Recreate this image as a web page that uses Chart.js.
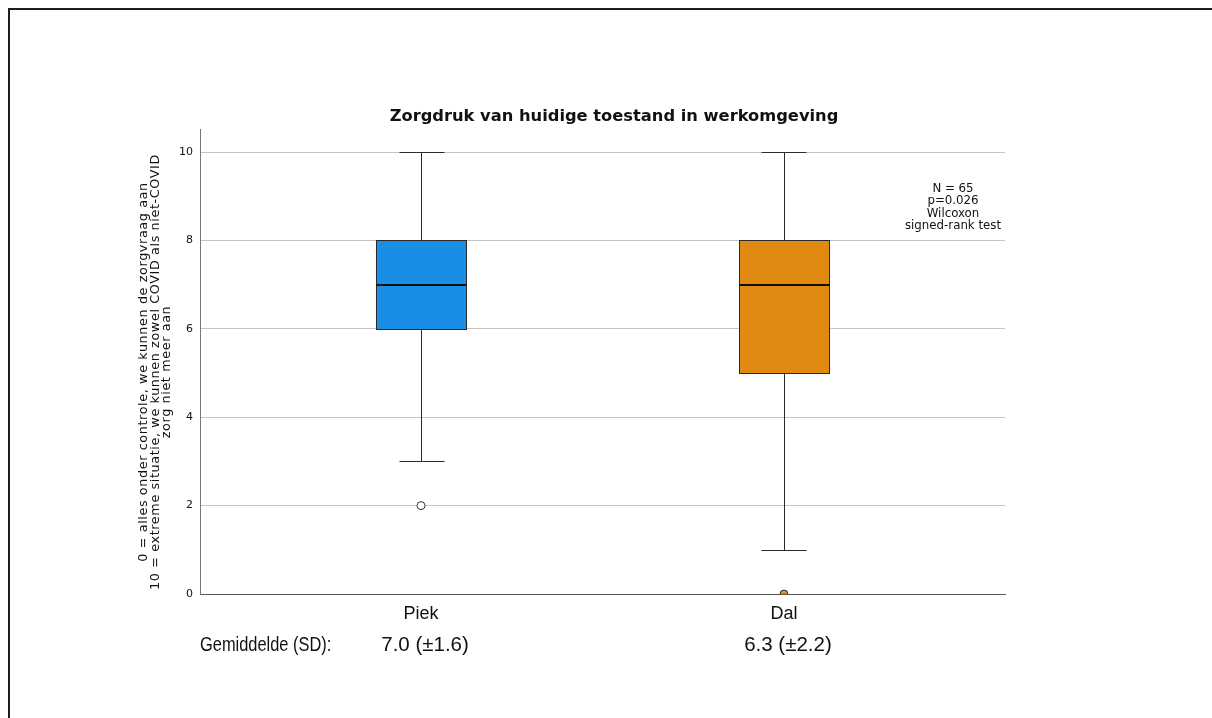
<!DOCTYPE html>
<html>
<head>
<meta charset="utf-8">
<script src="https://cdn.jsdelivr.net/npm/chart.js@4/dist/chart.umd.min.js"></script>
<style>
  html, body { margin: 0; padding: 0; background: #fff; overflow: hidden; }
  #frame { position: absolute; left: 8px; top: 8px; width: 1400px; height: 900px;
           border-left: 2px solid #1e1e1e; border-top: 2px solid #1e1e1e; }
  #chart { position: absolute; left: 0; top: 0; }
</style>
</head>
<body>
<div id="frame"></div>
<canvas id="chart" width="1212" height="718"></canvas>
<script>
// Box plot summary per group
const categories   = ['Piek', 'Dal'];
const whiskerLow   = [3, 1];
const quartile1    = [6, 5];
const medians      = [7, 7];
const quartile3    = [8, 8];
const whiskerHigh  = [10, 10];
const outliers     = [[2], [0]];
const means        = [7.0, 6.3];
const sds          = [1.6, 2.2];

// Axis and labels
const yTickValues  = [0, 2, 4, 6, 8, 10];
const yAxisTitle   = [
  '0 = alles onder controle, we kunnen de zorgvraag aan',
  '10 = extreme situatie, we kunnen zowel COVID als niet-COVID',
  'zorg niet meer aan'
];
const chartTitle   = 'Zorgdruk van huidige toestand in werkomgeving';
const statNote     = ['N = 65', 'p=0.026', 'Wilcoxon', 'signed-rank test'];
const meanRowLabel = 'Gemiddelde (SD):';

// Styling
const boxFills     = ['#1a8de6', '#e08a12'];
const outlierFills = ['#ffffff', '#e08a12'];
const BOX_HALF = 0.125;   // half box width, in category units
const CAP_HALF = 0.062;   // half whisker-cap width, in category units

const outlierPoints = [];
const outlierColors = [];
outliers.forEach((vals, i) => vals.forEach(v => {
  outlierPoints.push({ x: i, y: v });
  outlierColors.push(outlierFills[i]);
}));

const crisp = v => Math.round(v) + 0.5;

const boxPlotPlugin = {
  id: 'boxPlot',
  beforeDatasetsDraw(chart) {
    const { ctx, scales: { x, y } } = chart;
    ctx.save();
    categories.forEach((_, i) => {
      const cx = crisp(x.getPixelForValue(i));
      const bl = crisp(x.getPixelForValue(i - BOX_HALF));
      const br = crisp(x.getPixelForValue(i + BOX_HALF));
      const cl = crisp(x.getPixelForValue(i - CAP_HALF));
      const cr = crisp(x.getPixelForValue(i + CAP_HALF));
      const yLo = crisp(y.getPixelForValue(whiskerLow[i]));
      const yQ1 = crisp(y.getPixelForValue(quartile1[i]));
      const yMd = Math.round(y.getPixelForValue(medians[i]));
      const yQ3 = crisp(y.getPixelForValue(quartile3[i]));
      const yHi = crisp(y.getPixelForValue(whiskerHigh[i]));

      ctx.strokeStyle = '#2b2b2b';
      ctx.lineWidth = 1;
      ctx.beginPath();
      ctx.moveTo(cx, yQ3); ctx.lineTo(cx, yHi);
      ctx.moveTo(cl, yHi); ctx.lineTo(cr, yHi);
      ctx.moveTo(cx, yQ1); ctx.lineTo(cx, yLo);
      ctx.moveTo(cl, yLo); ctx.lineTo(cr, yLo);
      ctx.stroke();

      ctx.fillStyle = boxFills[i];
      ctx.fillRect(bl, yQ3, br - bl, yQ1 - yQ3);
      ctx.strokeStyle = '#2a2a2a';
      ctx.strokeRect(bl, yQ3, br - bl, yQ1 - yQ3);

      ctx.strokeStyle = '#101010';
      ctx.lineWidth = 2;
      ctx.beginPath();
      ctx.moveTo(bl, yMd); ctx.lineTo(br, yMd);
      ctx.stroke();
    });
    ctx.restore();
  },
  afterDraw(chart) {
    const { ctx, chartArea, scales: { x } } = chart;
    ctx.save();
    ctx.fillStyle = '#111';
    ctx.textBaseline = 'middle';

    // rotated y-axis description, one line per entry
    ctx.save();
    ctx.font = '12.8px "DejaVu Sans"';
    ctx.letterSpacing = '0.6px';
    ctx.textAlign = 'center';
    ctx.translate(chartArea.left - 56, (chartArea.top + chartArea.bottom) / 2 + 10);
    ctx.rotate(-Math.PI / 2);
    yAxisTitle.forEach((line, k) => ctx.fillText(line, 0, k * 11.5));
    ctx.restore();

    // test annotation, upper right
    ctx.font = '11.8px "DejaVu Sans"';
    ctx.textAlign = 'center';
    statNote.forEach((line, k) => {
      ctx.fillText(line, chartArea.right - 52, chartArea.top + 59 + k * 12.3);
    });

    // mean (SD) row under the category labels
    const rowY = chartArea.bottom + 51;
    ctx.save();
    ctx.font = '20px "Liberation Sans"';
    ctx.textAlign = 'left';
    ctx.translate(chartArea.left, rowY);
    ctx.scale(0.82, 1);
    ctx.fillText(meanRowLabel, 0, 0);
    ctx.restore();
    ctx.font = '20.5px "Liberation Sans"';
    ctx.textAlign = 'center';
    categories.forEach((_, i) => {
      const txt = means[i].toFixed(1) + ' (\u00b1' + sds[i].toFixed(1) + ')';
      ctx.fillText(txt, x.getPixelForValue(i) + 4, rowY);
    });
    ctx.restore();
  }
};

new Chart(document.getElementById('chart'), {
  type: 'scatter',
  data: {
    datasets: [{
      label: 'Uitschieters',
      data: outlierPoints,
      pointRadius: 4,
      pointHoverRadius: 4,
      pointBackgroundColor: outlierColors,
      pointBorderColor: '#333333',
      pointBorderWidth: 1,
      clip: 0
    }]
  },
  options: {
    responsive: false,
    animation: false,
    devicePixelRatio: 1,
    layout: { padding: { top: 0, left: 30, right: 14, bottom: 54 } },
    plugins: {
      legend: { display: false },
      tooltip: { enabled: false },
      title: {
        display: true,
        text: chartTitle,
        color: '#111',
        font: { family: 'DejaVu Sans', size: 16.3, weight: 'bold', lineHeight: 1.2 },
        padding: { top: 106.5, bottom: 3.9 }
      }
    },
    scales: {
      x: {
        type: 'linear',
        min: -0.609,
        max: 1.609,
        grid: { display: false },
        border: { display: true, color: '#555555', width: 1 },
        afterBuildTicks: s => { s.ticks = categories.map((_, i) => ({ value: i })); },
        afterFit: s => { s.height = 70; },
        ticks: {
          padding: 1,
          color: '#111',
          font: { family: 'Liberation Sans', size: 18 },
          callback: v => categories[v]
        }
      },
      y: {
        type: 'linear',
        position: 'left',
        min: 0,
        max: 10.5,
        afterBuildTicks: s => { s.ticks = yTickValues.map(v => ({ value: v })); },
        afterFit: s => { s.width = 170; },
        grid: {
          drawTicks: false,
          color: c => (c.tick && c.tick.value === 0) ? 'rgba(0,0,0,0)' : '#c4c4c4',
          lineWidth: 1
        },
        border: { display: true, color: '#777777', width: 1 },
        ticks: {
          padding: 7,
          color: '#111',
          font: { family: 'DejaVu Sans', size: 11 }
        }
      },
      y2: {
        type: 'linear',
        position: 'right',
        display: true,
        afterFit: s => { s.width = 193; },
        grid: { display: false },
        border: { display: false },
        ticks: { display: false }
      }
    }
  },
  plugins: [boxPlotPlugin]
});
</script>
</body>
</html>
